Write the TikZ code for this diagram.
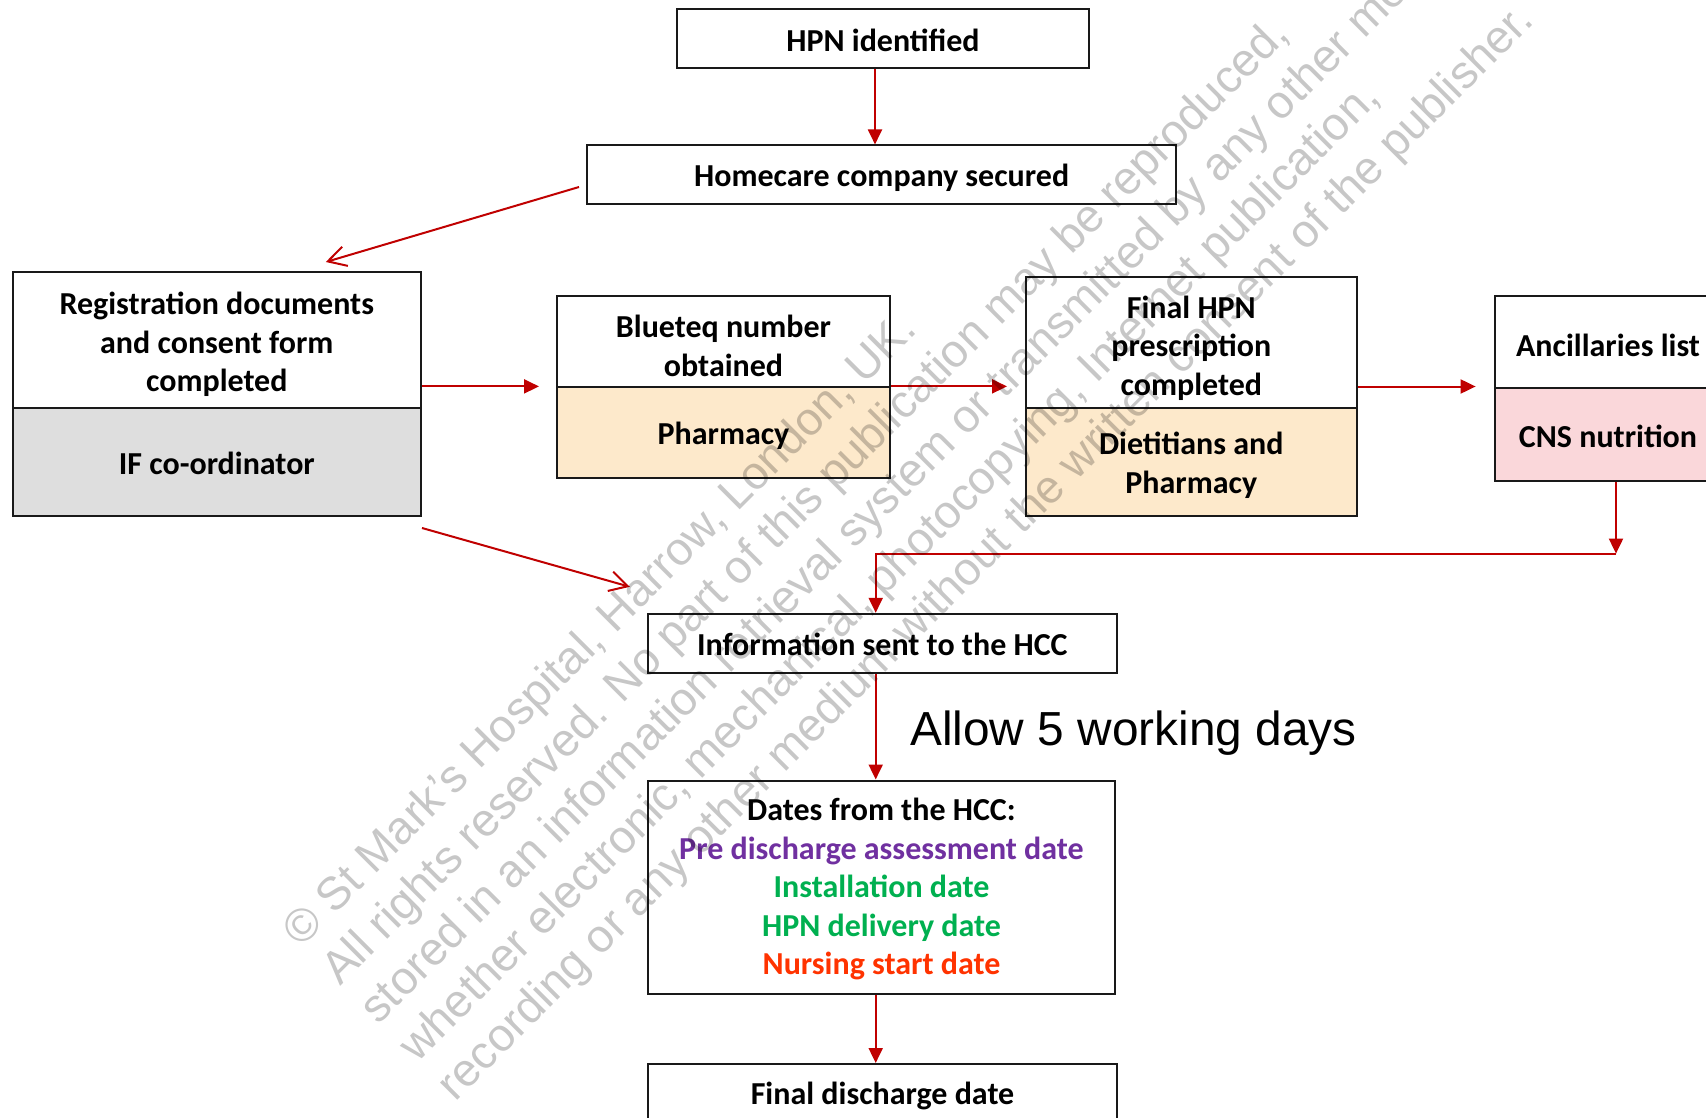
\documentclass[tikz,border=0pt]{standalone}
\usepackage{fontspec}
\setmainfont{Carlito}
\newfontfamily\arialf{Liberation Sans}
\usetikzlibrary{arrows.meta}
\definecolor{arrred}{HTML}{C00000}
\definecolor{greyfill}{HTML}{DEDEDE}
\definecolor{peach}{HTML}{FDE9CB}
\definecolor{pinkfill}{HTML}{FAD7DA}
\definecolor{purp}{HTML}{7030A0}
\definecolor{grn}{HTML}{00B050}
\definecolor{orred}{HTML}{FF3300}
\begin{document}
\begin{tikzpicture}[x=1pt,y=-1pt,
  bx/.style={draw=black!90, line width=2pt, inner sep=0pt},
  lbl/.style={align=center, inner sep=0pt, yshift=-3.3pt,
    font=\fontsize{32}{38.5}\selectfont\bfseries},
  arr/.style={draw=arrred, line width=2pt, -{Triangle[length=15pt,width=14pt]}},
  oarr/.style={draw=arrred, line width=2pt, -{Straight Barb[length=18pt,width=20pt]}},
  wm/.style={rotate=45, anchor=base west, inner sep=0pt, text=black, text opacity=0.22,
    font=\arialf\fontsize{46.2}{54.5}\selectfont},
]
\useasboundingbox (0,0) rectangle (1706,1118);
\clip (0,0) rectangle (1706,1118);
\fill[white] (0,0) rectangle (1706,1118);

% boxes
\node[bx, minimum width=411.5pt, minimum height=58.5pt,
  label={[lbl, yshift=1.5pt]center:{HPN identified}}] (hpn) at (883,38.5) {};
\node[bx, minimum width=589.4pt, minimum height=58.3pt,
  label={[lbl]center:{Homecare company secured}}] (home) at (881.7,174.6) {};

\node[bx, minimum width=408.4pt, minimum height=136pt,
  label={[lbl, yshift=-1pt]center:{Registration documents\\and consent form\\completed}}] (regT) at (216.8,340) {};
\node[bx, fill=greyfill, minimum width=408.4pt, minimum height=107.5pt,
  label={[lbl, yshift=2pt]center:{IF co-ordinator}}] (regB) at (216.8,461.75) {};

\node[bx, minimum width=333pt, minimum height=91.4pt,
  label={[lbl, yshift=-1pt]center:{Blueteq number\\obtained}}] (blueT) at (723.5,341.7) {};
\node[bx, fill=peach, minimum width=333pt, minimum height=90.6pt,
  label={[lbl]center:{Pharmacy}}] (blueB) at (723.5,432.7) {};

\node[bx, minimum width=330.6pt, minimum height=131pt,
  label={[lbl, yshift=-2pt]center:{Final HPN\\prescription\\completed}}] (finT) at (1191.3,342.5) {};
\node[bx, fill=peach, minimum width=330.6pt, minimum height=107.7pt,
  label={[lbl]center:{Dietitians and\\Pharmacy}}] (finB) at (1191.3,461.85) {};

\node[bx, minimum width=226.8pt, minimum height=91.1pt,
  label={[lbl]center:{Ancillaries list}}] (ancT) at (1608,342) {};
\node[bx, fill=pinkfill, minimum width=226.8pt, minimum height=93.9pt,
  label={[lbl, yshift=1pt]center:{CNS nutrition}}] (ancB) at (1608,434.45) {};

\node[bx, minimum width=469pt, minimum height=58.8pt,
  label={[lbl, yshift=2pt]center:{Information sent to the HCC}}] (info) at (882.3,643.2) {};
\node[bx, minimum width=467pt, minimum height=213.2pt,
  label={[lbl, yshift=1pt]center:{Dates from the HCC:\\
  \textcolor{purp}{Pre discharge assessment date}\\
  \textcolor{grn}{Installation date}\\
  \textcolor{grn}{HPN delivery date}\\
  \textcolor{orred}{Nursing start date}}}] (dates) at (881.5,887.1) {};
\node[bx, minimum width=469pt, minimum height=58pt,
  label={[lbl]center:{Final discharge date}}] (final) at (882.5,1093) {};

\node[anchor=base west, inner sep=0pt, font=\arialf\fontsize{47.8}{56}\selectfont] (allow) at (910,745) {Allow 5 working days};

% connectors
\coordinate (ax) at (875,0);
\coordinate (j1) at (1616,553.6);
\coordinate (j2) at (875.7,553.6);
\draw[arr] (hpn.south -| ax) -- (home.north -| ax);
\draw[oarr] ([xshift=-7pt,yshift=-12.4pt]home.west) -- ([xshift=109pt,yshift=9pt]regT.north);
\draw[oarr] ([yshift=-11.5pt]regB.south east) -- ([xshift=-17pt,yshift=26pt]info.north west);
\draw[arr] (regT.east |- blueB.north) -- ([xshift=-17pt]blueB.north west);
\draw[arr] (blueB.north east) -- ([xshift=-18pt]finT.west |- blueB.north);
\draw[arr] (finT.east |- ancB.north) -- ([xshift=-18pt]ancB.north west);
\draw[arr] (ancB.south -| j1) -- (j1);
\draw[arr] (j1) -- (j2) -- (info.north -| j2);
\draw[arr] (info.south -| j2) -- (dates.north -| j2);
\draw[arr] (dates.south -| j2) -- (final.north -| j2);

% watermark
\node[wm] (wm1) at (301.5,948.5) {© St Mark’s Hospital, Harrow, London, UK.};
\node[wm] (wm2) at (340,987) {All rights reserved. No part of this publication may be reproduced,};
\node[wm] (wm3) at (378.5,1025.5) {stored in an information retrieval system or transmitted by any other means,};
\node[wm] (wm4) at (417,1064) {whether electronic, mechanical, photocopying, Internet publication,};
\node[wm] (wm5) at (455.5,1102.5) {recording or any other medium without the written consent of the publisher.};
\end{tikzpicture}
\end{document}
